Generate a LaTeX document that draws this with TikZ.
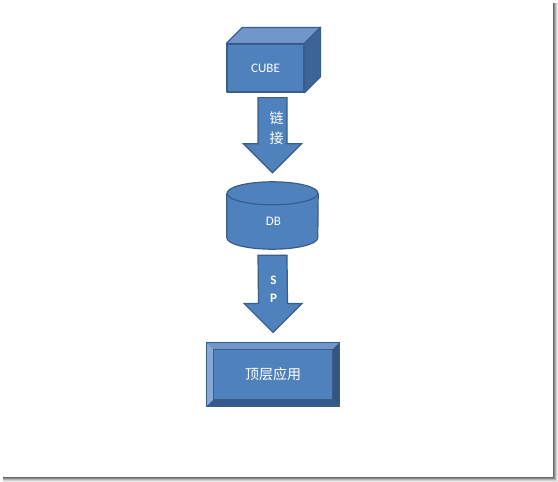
\documentclass[tikz,border=0pt]{standalone}
\usepackage{fontspec}
\setmainfont{Carlito}
\newfontfamily\cjk{Noto Sans CJK SC}
\usetikzlibrary{calc}

\definecolor{boxblue}{HTML}{4F81BD}
\definecolor{boxline}{HTML}{385D8A}
\definecolor{toplight}{HTML}{7096CC}
\definecolor{sidedark}{HTML}{3D6497}
\definecolor{bevellight}{HTML}{88A8D6}
\definecolor{beveldark}{HTML}{34598A}

% block arrow from #1 (top) to #2 (tip)
\newcommand\blockarr[2]{%
  \filldraw[barrow] ($(#1)+(-14.5,0)$) -- ($(#2)+(-14.5,-29)$) -- ($(#2)+(-29,-29)$)
    -- (#2) -- ($(#2)+(29,-29)$) -- ($(#2)+(14.5,-29)$) -- ($(#1)+(14.5,0)$) -- cycle;}

\begin{document}
\begin{tikzpicture}[
    x=1pt, y=-1pt,
    shape3d/.style={fill=boxblue, draw=boxline, line width=1.2pt, line join=round},
    face/.style={rectangle, shape3d, inner sep=0pt, text=white},
    barrow/.style={fill=boxblue, draw=boxline, line width=1.2pt, line join=miter},
    lbl/.style={text=white, font=\fontsize{13}{15}\selectfont},
    cjklbl/.style={text=white, align=center, font=\cjk\fontsize{14}{20}\selectfont},
  ]
  \useasboundingbox (0,0) rectangle (558,482);
  % frame shadow
  \foreach \i/\c in {0/60,1/45,2/30,3/18,4/8}{
    \draw[black!\c, line width=1pt] (553.5+\i,3) -- (553.5+\i,482);
    \draw[black!\c, line width=1pt] (3,477.5+\i) -- (553+\i,477.5+\i);
  }

  % cube
  \node[face, minimum width=77, minimum height=48, lbl] (cube) at (265.5,68) {CUBE};
  \filldraw[shape3d, fill=toplight] (cube.north west) -- ++(16,-16) -- ($(cube.north east)+(16,-16)$)
    -- (cube.north east) -- cycle;
  \filldraw[shape3d, fill=sidedark] (cube.north east) -- ++(16,-16) -- ($(cube.south east)+(16,-16)$)
    -- (cube.south east) -- cycle;

  % database
  \node[rectangle, minimum width=91, minimum height=44, inner sep=0pt] (db) at (272.5,215.5) {};
  \path[fill=boxblue] (db.north west) -- (db.south west)
    arc[start angle=180, end angle=0, x radius=45.5, y radius=11.5] -- (db.north east) -- cycle;
  \draw[boxline, line width=1.2pt] (db.north west) -- (db.south west)
    arc[start angle=180, end angle=0, x radius=45.5, y radius=11.5] -- (db.north east);
  \filldraw[shape3d] (db.north) ellipse[x radius=45.5, y radius=11.5];
  \node[lbl] (dblbl) at ($(db)+(1,6)$) {DB};

  % application
  \node[face, minimum width=132, minimum height=63] (app) at (273,374.5) {};
  \fill[toplight] (app.north west) -- (app.north east) -- ++(-7,7)
    -- ($(app.north west)+(7,7)$) -- cycle;
  \fill[bevellight] (app.north west) -- ++(7,7)
    -- ($(app.south west)+(7,-7)$) -- (app.south west) -- cycle;
  \fill[beveldark] (app.south west) -- ++(7,-7)
    -- ($(app.south east)+(-7,-7)$) -- (app.south east) -- cycle;
  \fill[sidedark!85!black] (app.north east) -- ++(-7,7)
    -- ($(app.south east)+(-7,-7)$) -- (app.south east) -- cycle;
  \draw[boxline, line width=1.2pt] (app.north west) rectangle (app.south east);
  \draw[boxline, line width=0.8pt] ($(app.north west)+(7,7)$) rectangle ($(app.south east)+(-7,-7)$);
  \node[cjklbl] (applbl) at (app) {顶层应用};

  % connectors
  \coordinate (a1s) at ($(db.north |- cube.south)+(0,5)$);
  \coordinate (a1e) at ($(db.north)+(0,-20.5)$);
  \blockarr{a1s}{a1e}
  \node[cjklbl] (link) at ($(a1s)+(4,31)$) {链\\接};
  \coordinate (a2s) at ($(db.south)+(0,17.5)$);
  \coordinate (a2e) at ($(app.north)+(0,-10)$);
  \blockarr{a2s}{a2e}
  \node[lbl, align=center, font=\fontsize{13}{18}\selectfont\bfseries] (sp) at ($(a2s)+(1,34)$) {S\\P};
\end{tikzpicture}
\end{document}
